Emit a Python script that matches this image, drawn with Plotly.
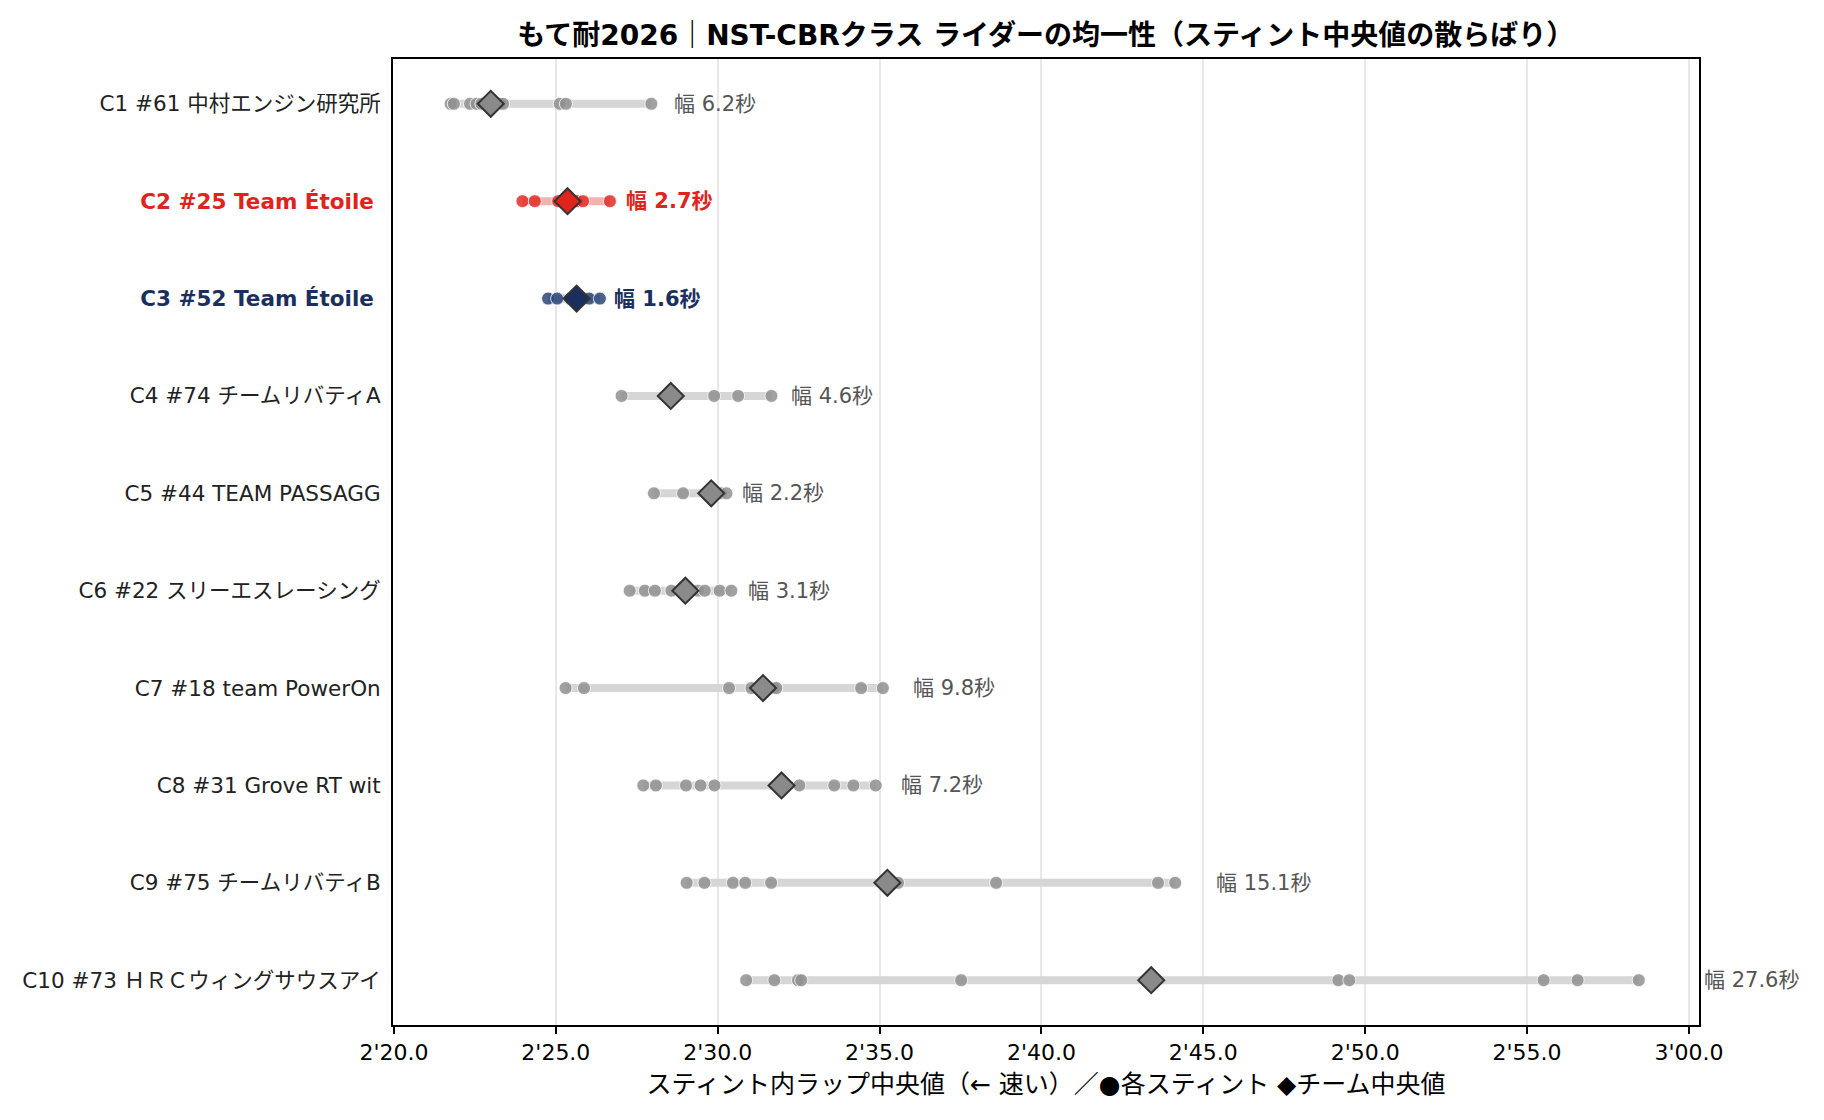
import plotly.graph_objs as go

# チーム（上から順）
teams = [
    "C1 #61 中村エンジン研究所",
    "C2 #25 Team Étoile",
    "C3 #52 Team Étoile",
    "C4 #74 チームリバティA",
    "C5 #44 TEAM PASSAGG",
    "C6 #22 スリーエスレーシング",
    "C7 #18 team PowerOn",
    "C8 #31 Grove RT wit",
    "C9 #75 チームリバティB",
    "C10 #73 ＨＲＣウィングサウスアイ",
]

# スティントごとのラップ中央値（秒）
c1 = [141.75, 141.85, 142.35, 142.55, 142.70, 143.28, 143.37, 145.12, 145.31, 147.95]
c2 = [143.97, 144.35, 145.07, 145.65, 145.84, 146.67]
c3 = [144.76, 145.04, 145.45, 145.83, 146.03, 146.36]
c4 = [147.03, 148.40, 148.55, 149.89, 150.63, 151.66]
c5 = [148.03, 148.93, 149.80, 150.10, 150.27]
c6 = [147.28, 147.75, 148.06, 148.57, 149.39, 149.60, 150.06, 150.42]
c7 = [145.30, 145.87, 150.35, 151.04, 151.76, 151.81, 154.43, 155.10]
c8 = [147.70, 148.09, 149.02, 149.47, 149.90, 151.97, 152.52, 153.60, 154.19, 154.88]
c9 = [149.04, 149.59, 150.47, 150.85, 151.65, 155.24, 155.57, 158.60, 163.60, 164.13]
c10 = [150.88, 151.75, 152.48, 152.58, 157.52, 163.39, 169.17, 169.51, 175.51, 176.56, 178.45]
stints = [c1, c2, c3, c4, c5, c6, c7, c8, c9, c10]

# チーム中央値と幅（秒）
medians = [142.99, 145.36, 145.64, 148.55, 149.80, 149.00, 151.40, 151.97, 155.24, 163.39]
widths = [6.2, 2.7, 1.6, 4.6, 2.2, 3.1, 9.8, 7.2, 15.1, 27.6]

tick_secs = [140, 145, 150, 155, 160, 165, 170, 175, 180]
x_range = [139.97, 180.31]

RED = "#e0231b"
NAVY = "#1b2f5e"
highlight = {1: RED, 2: NAVY}
FONT = "DejaVu Sans, Noto Sans CJK JP"


def fmt_lap(sec):
    m = int(sec // 60)
    return f"{m}'{sec - 60 * m:04.1f}"


def to_paper(xv):
    return (xv - x_range[0]) / (x_range[1] - x_range[0])


fig = go.Figure()
ticktext = []
annotations = []

for i, (name, vals) in enumerate(zip(teams, stints)):
    col = highlight.get(i)
    lo, hi = min(vals), max(vals)
    if col == RED:
        line_col, dot_col, dia_col = "rgba(224,35,27,0.35)", "rgba(226,45,38,0.85)", RED
    elif col == NAVY:
        line_col, dot_col, dia_col = "rgba(27,47,94,0.35)", "rgba(45,70,120,0.85)", NAVY
    else:
        line_col, dot_col, dia_col = "#d6d6d6", "rgba(145,145,145,0.85)", "#8a8a8a"

    fig.add_trace(go.Scatter(
        x=[lo, hi], y=[name, name], mode="lines",
        line=dict(color=line_col, width=8), hoverinfo="skip", showlegend=False,
    ))
    fig.add_trace(go.Scatter(
        x=vals, y=[name] * len(vals), mode="markers",
        marker=dict(size=13, color=dot_col, line=dict(color="white", width=0.8)),
        showlegend=False,
    ))
    fig.add_trace(go.Scatter(
        x=[medians[i]], y=[name], mode="markers",
        marker=dict(symbol="diamond", size=20, color=dia_col,
                    line=dict(color="#333333", width=2)),
        showlegend=False,
    ))

    label = f"幅 {widths[i]:.1f}秒"
    if col:
        label = f"<b>{label}</b>"
        ticktext.append(f"<b><span style='color:{col}'>{name}</span></b> ")
    else:
        ticktext.append(name)
    # 幅ラベルは最遅スティントの右側（枠外にはみ出してもよい）
    annotations.append(dict(
        x=to_paper(hi + 0.27 + 0.061 * widths[i]), y=name, xref="paper", yref="y",
        text=label, showarrow=False, xanchor="left", yanchor="middle",
        font=dict(family=FONT, size=21, color=col if col else "#555555"),
    ))

fig.update_layout(
    width=1808,
    height=1104,
    template=None,
    plot_bgcolor="white",
    paper_bgcolor="white",
    margin=dict(l=385, r=117, t=51, b=87),
    font=dict(family=FONT, size=21, color="#222222"),
    title=dict(
        text="<b>もて耐2026｜NST-CBRクラス ライダーの均一性（スティント中央値の散らばり）</b>",
        font=dict(size=28, color="black"), x=0.574, y=0.9755,
        xanchor="center", yanchor="middle",
    ),
    annotations=annotations,
    showlegend=False,
)

fig.update_xaxes(
    range=x_range,
    tickvals=tick_secs,
    ticktext=[fmt_lap(s) for s in tick_secs],
    ticks="outside", ticklen=7, tickwidth=1.5, tickcolor="black",
    tickfont=dict(size=22, color="black"),
    showgrid=True, gridcolor="#e8e8e8", gridwidth=1.5,
    showline=True, linecolor="black", linewidth=2, mirror=True,
    zeroline=False,
    title=dict(text="スティント内ラップ中央値（← 速い）／●各スティント ◆チーム中央値",
               font=dict(size=25, color="black"), standoff=11),
)

fig.update_yaxes(
    type="category",
    categoryorder="array", categoryarray=teams,
    range=[9.46, -0.46],
    tickvals=teams, ticktext=ticktext,
    ticks="", tickfont=dict(size=21.5, color="#222222"),
    showgrid=False,
    showline=True, linecolor="black", linewidth=2, mirror=True,
    zeroline=False, ticklabelstandoff=6,
)

fig.write_html("out.html")
